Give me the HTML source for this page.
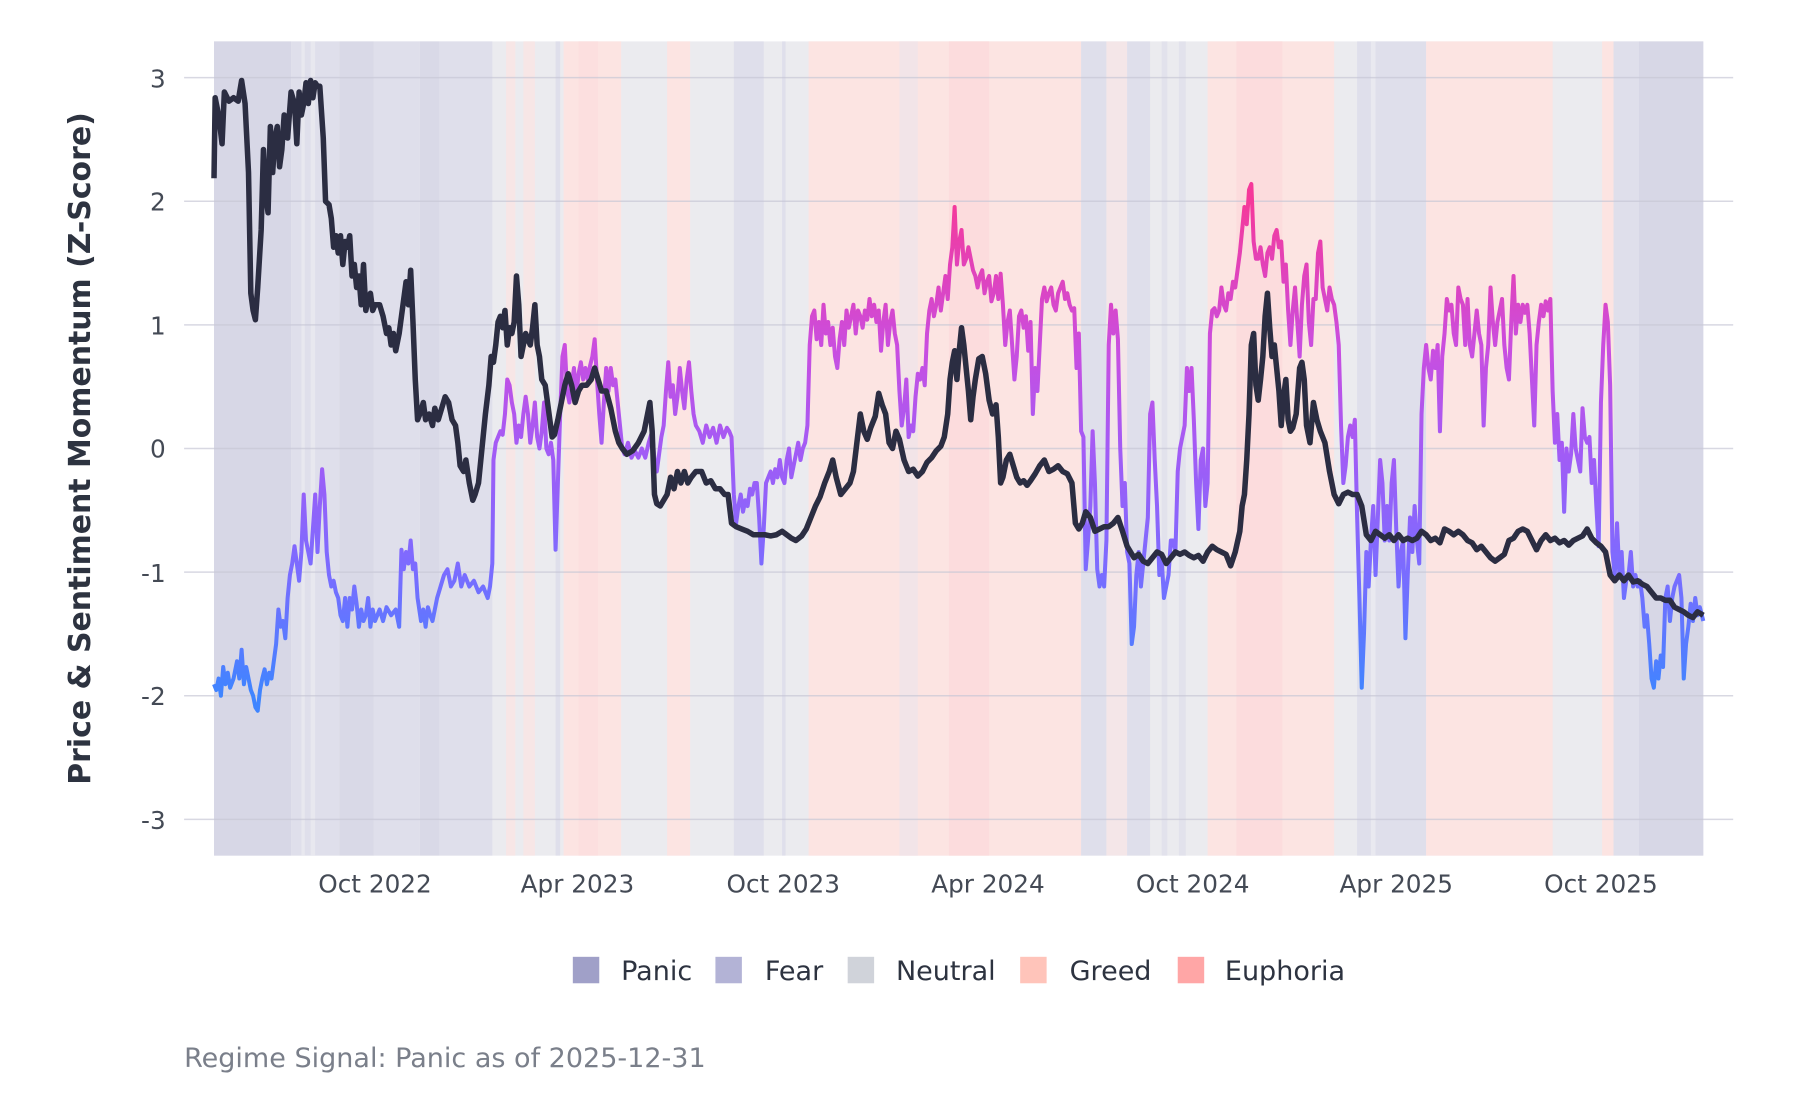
<!DOCTYPE html>
<html><head><meta charset="utf-8"><style>
html,body{margin:0;padding:0;background:#fff;width:1800px;height:1100px;overflow:hidden}
svg{display:block}
text{font-family:"DejaVu Sans","Liberation Sans",sans-serif}
</style></head><body>
<svg width="1800" height="1100" viewBox="0 0 1565 956.5" xmlns="http://www.w3.org/2000/svg">
<defs>
<linearGradient id="sg" gradientUnits="userSpaceOnUse" x1="0" y1="175" x2="0" y2="605">
<stop offset="0" stop-color="#f5399a"/>
<stop offset="0.3" stop-color="#c94ee0"/>
<stop offset="0.5" stop-color="#a35bf5"/>
<stop offset="0.75" stop-color="#7a6cff"/>
<stop offset="1" stop-color="#3f85ff"/>
</linearGradient>
</defs>
<g>
<rect x="186" y="36" width="1295" height="708" fill="#ebebef"/>
<rect x="186" y="36" width="67" height="708" fill="#d7d7e6"/>
<rect x="253" y="36" width="42" height="708" fill="#dfdfeb"/>
<rect x="262" y="36" width="3" height="708" fill="#e8e8ef"/>
<rect x="270" y="36" width="4" height="708" fill="#e8e8ef"/>
<rect x="295" y="36" width="30" height="708" fill="#d9d9e7"/>
<rect x="325" y="36" width="40" height="708" fill="#dfdfeb"/>
<rect x="365" y="36" width="17" height="708" fill="#d9d9e7"/>
<rect x="382" y="36" width="46" height="708" fill="#dfdfeb"/>
<rect x="440" y="36" width="8" height="708" fill="#f7e6e6"/>
<rect x="455" y="36" width="10" height="708" fill="#f7e6e6"/>
<rect x="483" y="36" width="4" height="708" fill="#dfdfeb"/>
<rect x="490" y="36" width="50" height="708" fill="#fce4e2"/>
<rect x="503" y="36" width="17" height="708" fill="#fcdfdf"/>
<rect x="580" y="36" width="20" height="708" fill="#fce4e2"/>
<rect x="638" y="36" width="26" height="708" fill="#dfdfeb"/>
<rect x="680" y="36" width="3" height="708" fill="#dfdfeb"/>
<rect x="703" y="36" width="237" height="708" fill="#fce4e2"/>
<rect x="782" y="36" width="16" height="708" fill="#f2e4e8"/>
<rect x="825" y="36" width="35" height="708" fill="#fcdcdd"/>
<rect x="940" y="36" width="22" height="708" fill="#dfdfeb"/>
<rect x="962" y="36" width="18" height="708" fill="#f4e6e8"/>
<rect x="980" y="36" width="20" height="708" fill="#dfdfeb"/>
<rect x="1010" y="36" width="5" height="708" fill="#e2e2ec"/>
<rect x="1025" y="36" width="6" height="708" fill="#e2e2ec"/>
<rect x="1050" y="36" width="110" height="708" fill="#fce4e2"/>
<rect x="1075" y="36" width="40" height="708" fill="#fcdcdd"/>
<rect x="1180" y="36" width="60" height="708" fill="#dfdfeb"/>
<rect x="1192" y="36" width="4" height="708" fill="#e9e9f0"/>
<rect x="1240" y="36" width="110" height="708" fill="#fce4e2"/>
<rect x="1393" y="36" width="10" height="708" fill="#fce4e2"/>
<rect x="1403" y="36" width="22" height="708" fill="#dfdfeb"/>
<rect x="1425" y="36" width="56" height="708" fill="#d7d7e6"/>
</g>
<g stroke="#c8c8d6" stroke-width="1.3" opacity="0.7">
<line x1="160" x2="1507" y1="67.5" y2="67.5"/>
<line x1="160" x2="1507" y1="175" y2="175"/>
<line x1="160" x2="1507" y1="282.5" y2="282.5"/>
<line x1="160" x2="1507" y1="390" y2="390"/>
<line x1="160" x2="1507" y1="497.5" y2="497.5"/>
<line x1="160" x2="1507" y1="605" y2="605"/>
<line x1="160" x2="1507" y1="712.5" y2="712.5"/>
</g>
<g fill="#444a55" font-size="21.5" text-anchor="end">
<text x="144" y="76">3</text><text x="144" y="183">2</text><text x="144" y="291">1</text>
<text x="144" y="398">0</text><text x="144" y="506">-1</text><text x="144" y="613">-2</text><text x="144" y="721">-3</text>
</g>
<g fill="#444a55" font-size="21.5" text-anchor="middle">
<text x="326" y="776">Oct 2022</text><text x="502" y="776">Apr 2023</text><text x="681" y="776">Oct 2023</text>
<text x="859" y="776">Apr 2024</text><text x="1037" y="776">Oct 2024</text><text x="1214" y="776">Apr 2025</text><text x="1392" y="776">Oct 2025</text>
</g>
<text transform="translate(78,390) rotate(-90)" text-anchor="middle" font-size="26" font-weight="bold" fill="#2d3340">Price &amp; Sentiment Momentum (Z-Score)</text>
<polyline fill="none" stroke="url(#sg)" stroke-width="3.5" stroke-linejoin="round" points="186,595 188,600 190,590 192,605 194,580 196,595 198,585 200,598 203,590 206,575 208,590 210,565 212,595 214,580 216,590 218,600 220,605 222,615 224,618 226,600 228,590 230,582 232,595 234,585 236,590 238,575 240,560 242,530 244,545 246,540 248,555 250,520 252,500 254,490 256,475 258,490 260,505 262,480 264,430 266,470 268,480 270,490 272,460 274,430 276,480 278,440 280,408 282,430 284,480 286,500 288,510 290,505 292,515 294,520 296,535 298,540 300,520 302,545 304,520 306,530 308,510 310,525 312,545 314,530 316,540 318,535 320,520 322,545 324,530 326,540 330,530 333,540 336,528 340,535 344,530 347,545 349,478 351,495 353,480 355,490 357,470 359,495 361,490 363,520 366,540 368,530 370,545 372,528 374,535 376,540 378,530 380,520 383,510 386,500 389,495 392,510 395,505 398,490 401,510 404,500 408,510 412,505 416,515 420,510 424,520 426,510 428,490 429,400 431,385 433,380 435,375 437,378 439,360 441,330 443,335 445,350 447,360 449,385 451,370 453,380 455,360 457,345 459,360 461,385 463,370 465,350 467,380 469,390 471,375 473,350 475,390 477,395 479,385 481,400 483,478 485,420 487,360 489,310 491,300 493,340 495,350 497,335 499,320 501,345 503,325 505,315 507,330 509,320 511,330 513,318 515,310 517,295 519,330 521,360 523,385 525,350 527,320 529,340 531,320 533,335 535,330 537,350 539,370 541,390 543,395 546,385 549,398 552,392 555,398 558,390 561,398 564,385 567,375 569,400 571,410 573,395 575,380 577,370 579,340 581,315 583,345 585,335 587,360 589,345 591,320 593,340 595,355 597,330 599,315 601,340 603,360 605,370 608,375 611,385 614,370 617,380 620,372 623,385 626,370 629,380 632,372 634,375 636,380 638,430 640,455 642,440 644,430 646,445 648,435 650,440 652,425 654,430 656,420 658,420 660,450 662,490 664,460 666,420 668,415 670,410 672,420 674,408 676,415 678,400 680,415 682,420 684,400 686,390 688,415 690,405 692,395 694,385 696,400 698,390 700,385 702,370 704,300 706,275 708,270 710,295 712,280 714,300 716,265 718,290 720,280 722,300 724,285 726,310 728,320 730,295 732,280 734,300 736,270 738,285 740,275 742,265 744,290 746,270 748,275 750,285 752,270 754,278 756,260 758,275 760,265 762,280 764,270 766,305 768,280 770,265 772,300 774,280 776,270 778,290 780,300 782,340 784,370 786,355 788,330 790,380 792,370 794,375 796,345 798,325 800,330 802,320 804,335 806,290 808,270 810,260 812,275 814,265 816,250 818,270 820,255 822,240 824,260 826,230 828,215 830,180 832,230 834,210 836,200 838,230 840,225 842,215 844,225 846,235 848,240 850,250 852,240 854,235 856,255 858,245 860,240 862,262 864,255 866,240 868,260 870,238 872,265 874,300 876,280 878,270 880,300 882,330 884,310 886,275 888,270 890,285 892,275 894,305 896,280 898,360 900,320 902,340 904,300 906,260 908,250 910,262 912,255 914,250 916,265 918,270 920,255 922,250 924,245 926,260 928,255 930,265 932,270 934,268 936,320 938,290 940,375 942,380 944,495 946,470 948,440 950,375 952,420 954,495 956,510 958,500 960,510 962,470 964,300 966,265 968,290 970,270 972,295 974,390 976,440 978,420 980,480 982,490 984,560 986,545 988,500 990,480 992,510 994,490 996,470 998,450 1000,360 1002,350 1004,400 1006,440 1008,500 1010,485 1012,520 1014,510 1016,500 1018,470 1020,470 1022,480 1024,410 1026,390 1028,380 1030,370 1032,320 1034,340 1036,320 1038,365 1040,420 1042,460 1044,400 1046,390 1048,440 1050,420 1052,290 1054,270 1056,268 1058,275 1060,270 1062,250 1064,265 1066,270 1068,255 1070,260 1072,245 1074,250 1076,235 1078,220 1080,200 1082,180 1084,195 1086,165 1088,160 1090,210 1092,225 1094,225 1096,215 1098,230 1100,240 1102,220 1104,215 1106,225 1108,205 1110,200 1112,215 1114,210 1116,245 1118,230 1120,270 1122,300 1124,270 1126,250 1128,280 1130,310 1132,265 1134,240 1136,230 1138,280 1140,300 1142,260 1144,260 1146,220 1148,210 1150,250 1152,260 1154,270 1156,250 1158,260 1160,265 1162,280 1164,300 1166,370 1168,420 1170,405 1172,380 1174,370 1176,380 1178,365 1180,450 1182,520 1184,598 1186,550 1188,480 1190,510 1192,470 1194,440 1196,500 1198,450 1200,400 1202,420 1204,470 1206,440 1208,470 1210,420 1212,400 1214,460 1216,510 1218,480 1220,470 1222,555 1224,500 1226,450 1228,480 1230,440 1232,470 1234,490 1236,360 1238,320 1240,300 1242,320 1244,330 1246,305 1248,320 1250,300 1252,375 1254,310 1256,290 1258,260 1260,270 1262,265 1264,290 1266,300 1268,250 1270,260 1272,265 1274,300 1276,260 1278,300 1280,310 1282,290 1284,270 1286,290 1288,300 1290,370 1292,320 1294,300 1296,250 1298,280 1300,300 1302,280 1304,270 1306,260 1308,300 1310,320 1312,330 1314,280 1316,240 1318,290 1320,265 1322,280 1324,265 1326,272 1328,265 1330,290 1332,330 1334,370 1336,300 1338,280 1340,265 1342,275 1344,262 1346,270 1348,260 1350,340 1352,385 1354,360 1356,400 1358,385 1360,445 1362,390 1364,410 1366,395 1368,360 1370,390 1372,400 1374,410 1376,355 1378,380 1380,385 1382,380 1384,420 1386,400 1388,440 1390,475 1392,350 1394,300 1396,265 1398,280 1400,335 1402,480 1404,500 1406,455 1408,500 1410,480 1412,520 1414,505 1416,500 1418,480 1420,510 1422,500 1424,510 1426,505 1428,520 1430,545 1432,535 1434,560 1436,590 1438,598 1440,575 1442,590 1444,570 1446,580 1448,520 1450,510 1452,540 1454,520 1456,510 1458,505 1460,500 1462,520 1464,590 1466,560 1468,545 1470,525 1472,540 1474,520 1476,535 1478,528 1481,540"/>
<polyline fill="none" stroke="#2b2d42" stroke-width="4.8" stroke-linejoin="round" points="186,155 187,85 190,100 193,125 195,80 199,88 203,85 207,88 210,70 213,90 216,150 218,255 220,270 222,278 224,250 227,200 229,130 231,170 233,185 235,110 237,150 239,120 241,110 243,145 245,130 247,100 250,120 253,80 256,90 258,125 260,80 262,100 264,90 266,72 268,90 270,70 272,85 274,72 276,75 278,75 281,120 283,175 286,178 288,190 290,215 292,205 294,220 296,205 298,230 300,210 302,215 304,205 306,240 308,230 310,250 312,240 314,265 316,230 318,270 320,260 322,255 324,270 326,265 330,265 333,275 336,290 338,285 340,300 342,290 344,305 347,290 349,275 351,260 353,245 355,265 357,235 359,280 361,330 363,365 365,360 368,350 370,365 373,360 376,370 378,355 381,365 384,355 387,345 390,350 393,365 396,370 398,385 400,405 403,410 405,400 408,420 411,435 413,430 416,420 419,390 422,360 425,335 427,310 429,315 431,300 433,280 435,275 437,285 439,270 441,300 443,285 445,290 447,280 449,240 451,265 453,310 455,300 457,290 459,295 461,300 463,285 465,265 467,300 469,310 471,330 474,335 476,350 478,365 480,380 482,378 485,365 488,350 491,335 494,325 497,335 500,350 503,340 506,335 510,335 514,330 517,320 520,330 523,340 527,340 531,355 535,375 538,385 541,390 545,395 550,392 555,385 560,375 563,360 565,350 567,375 569,430 571,438 574,440 577,435 580,430 583,415 586,425 589,410 592,420 595,410 598,420 601,415 605,410 610,410 614,420 618,418 622,425 626,425 630,430 633,430 636,455 640,458 645,460 650,462 655,465 660,465 665,465 670,466 675,465 680,462 684,465 688,468 692,470 697,466 701,460 705,450 709,440 713,432 717,420 721,410 724,400 727,415 731,430 735,425 739,420 742,410 745,385 748,360 751,375 754,382 757,372 761,362 764,342 767,352 770,360 773,385 776,390 779,375 782,382 786,400 790,410 794,408 798,414 802,410 806,402 810,398 814,392 818,388 821,380 824,360 826,330 828,315 830,305 832,330 834,305 836,285 838,300 840,320 842,340 844,365 846,345 848,330 851,312 854,310 857,325 860,348 863,360 866,352 868,380 870,420 872,415 875,400 878,395 881,405 884,415 887,420 890,418 893,422 896,418 900,412 904,405 908,400 912,410 916,408 920,405 924,410 928,412 932,420 935,455 938,460 941,455 944,445 948,450 952,462 956,460 960,458 964,458 968,455 972,450 976,462 980,475 983,480 986,485 990,482 994,488 998,490 1002,485 1006,480 1010,482 1014,490 1018,485 1022,480 1026,482 1030,480 1034,483 1038,485 1042,483 1046,488 1050,480 1054,475 1058,478 1062,480 1066,482 1070,492 1074,480 1078,462 1080,440 1082,430 1084,400 1086,360 1088,300 1090,290 1092,335 1094,348 1096,330 1098,310 1100,275 1102,255 1104,285 1106,310 1108,300 1110,320 1112,340 1114,370 1116,345 1118,330 1120,365 1122,375 1124,372 1127,360 1130,320 1132,315 1134,330 1136,370 1139,385 1142,350 1145,365 1148,375 1152,385 1156,410 1160,430 1164,438 1168,430 1172,428 1176,430 1180,430 1184,440 1188,465 1192,470 1196,462 1200,465 1204,468 1208,465 1212,470 1216,465 1220,470 1224,468 1228,470 1232,468 1236,462 1240,465 1244,470 1248,468 1252,472 1256,460 1260,462 1264,465 1268,462 1272,465 1276,470 1280,472 1284,478 1288,475 1292,480 1296,485 1300,488 1304,485 1308,482 1312,470 1316,468 1320,462 1324,460 1328,462 1332,470 1336,478 1340,470 1344,465 1348,470 1352,468 1356,472 1360,470 1364,474 1368,470 1372,468 1376,466 1380,460 1384,468 1388,472 1392,475 1396,480 1400,500 1404,505 1408,500 1412,505 1416,500 1420,506 1424,505 1428,508 1432,510 1436,515 1440,520 1444,520 1448,522 1452,522 1456,528 1460,530 1464,532 1468,535 1472,537 1476,532 1481,535"/>
<g font-size="23.5" fill="#2d3340">
<rect x="498" y="832" width="23" height="23" fill="#a0a0c8"/><text x="540" y="852">Panic</text>
<rect x="622" y="832" width="23" height="23" fill="#b3b3d6"/><text x="665" y="852">Fear</text>
<rect x="737" y="832" width="23" height="23" fill="#d0d3da"/><text x="779" y="852">Neutral</text>
<rect x="887" y="832" width="23" height="23" fill="#ffc4ba"/><text x="930" y="852">Greed</text>
<rect x="1024" y="832" width="23" height="23" fill="#ffa6a6"/><text x="1065" y="852">Euphoria</text>
</g>
<text x="160" y="928" font-size="23.5" fill="#7a7f8a">Regime Signal: Panic as of 2025-12-31</text>
</svg>
</body></html>
